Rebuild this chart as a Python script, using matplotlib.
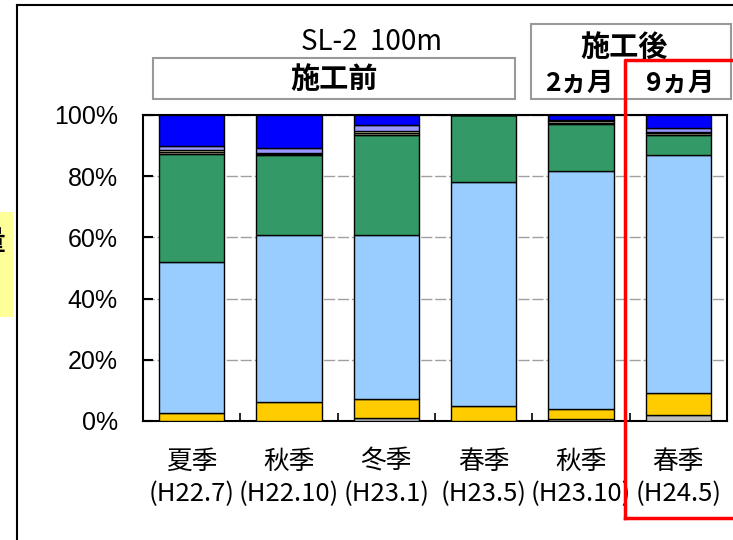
import matplotlib
matplotlib.use("Agg")
import matplotlib.pyplot as plt
from matplotlib.patches import Rectangle
from matplotlib.lines import Line2D
import numpy as np

plt.rcParams['font.family'] = ['Noto Sans CJK JP', 'DejaVu Sans']

# Survey periods
seasons = ["夏季", "秋季", "冬季", "春季", "秋季", "春季"]
periods = ["(H22.7)", "(H22.10)", "(H23.1)", "(H23.5)", "(H23.10)", "(H24.5)"]

# Composition (%) of each group, stacked from the bottom
gray     = [0.0, 0.0, 1.0, 0.0, 0.8, 2.0]
yellow   = [2.7, 6.2, 6.1, 5.0, 3.0, 7.0]
lblue    = [49.1, 54.7, 53.8, 73.1, 77.9, 78.0]
green    = [35.4, 25.9, 32.7, 21.9, 15.2, 6.6]
tan      = [0.8, 0.6, 0.6, 0.0, 0.5, 0.5]
cream    = [0.5, 0.3, 0.5, 0.0, 0.6, 0.5]
lavender = [1.4, 1.4, 2.1, 0.0, 0.3, 1.1]
blue     = [10.1, 10.9, 3.2, 0.0, 1.7, 4.3]

series = [gray, yellow, lblue, green, tan, cream, lavender, blue]
colors = ["#C0C0C0", "#FFCC00", "#99CCFF", "#339966",
          "#CCCC99", "#FFFFCC", "#9999FF", "#0000FF"]

W, H = 733, 540
fig = plt.figure(figsize=(W / 100, H / 100), dpi=100)

def fx(px):
    return px / W

def fy(py):
    return 1 - py / H

ax = fig.add_axes([fx(143), fy(421), fx(727) - fx(143), fy(115) - fy(421)])

x = np.arange(len(seasons))
bottom = np.zeros(len(seasons))
for vals, c in zip(series, colors):
    v = np.array(vals)
    ax.bar(x, v, bottom=bottom, width=0.67, color=c, edgecolor="black",
           linewidth=1.0, zorder=3)
    bottom += v

ax.set_xlim(-0.5, 5.5)
ax.set_ylim(0, 100)
ax.set_yticks([0, 20, 40, 60, 80, 100])
ax.set_yticklabels([f"{v}%" for v in [0, 20, 40, 60, 80, 100]],
                   family="Liberation Sans", fontsize=18)
ax.yaxis.grid(True, color="#A0A0A0", linewidth=1.0, linestyle=(0, (8, 2)),
              zorder=0)
ax.tick_params(axis="y", direction="in", length=7, width=1.5, pad=18)

ax.set_xticks(x)
ax.set_xticklabels([f"{s}\n{p}" for s, p in zip(seasons, periods)],
                   fontsize=18.5, linespacing=1.3)
ax.tick_params(axis="x", which="major", length=0, pad=20)
ax.set_xticks(np.arange(0.5, 5.5, 1.0), minor=True)
ax.tick_params(axis="x", which="minor", direction="in", length=6, width=1.2)

for sp in ax.spines.values():
    sp.set_linewidth(1.5)
    sp.set_color("black")

# Outer frame lines
fig.add_artist(Line2D([fx(17), fx(733)], [fy(5), fy(5)], color="black", lw=1.5))
fig.add_artist(Line2D([fx(17), fx(17)], [fy(5), fy(540)], color="black", lw=1.5))

# Side label box
fig.add_artist(Rectangle((fx(0), fy(317)), fx(13), fy(212) - fy(317),
                         facecolor="#FFFF99", edgecolor="none"))
fig.text(fx(-8), fy(242), "量", fontsize=20, fontweight="bold",
         ha="center", va="center")

# Headings
fig.text(fx(372), fy(42), "SL-2  100m", fontsize=20, ha="center", va="center")

fig.add_artist(Rectangle((fx(153), fy(99)), fx(515) - fx(153), fy(58) - fy(99),
                         facecolor="white", edgecolor="#999999", lw=1.5))
fig.text(fx(334), fy(79), "施工前", fontsize=21, fontweight="bold",
         ha="center", va="center")

fig.add_artist(Rectangle((fx(531), fy(99)), fx(731) - fx(531), fy(24) - fy(99),
                         facecolor="white", edgecolor="#999999", lw=1.5))
fig.text(fx(624), fy(47), "施工後", fontsize=21, fontweight="bold",
         ha="center", va="center")
fig.text(fx(579), fy(83), "2ヵ月", fontsize=19, fontweight="bold",
         ha="center", va="center")
fig.text(fx(680), fy(83), "9ヵ月", fontsize=19, fontweight="bold",
         ha="center", va="center")

# Highlight frame around the latest survey
fig.add_artist(Line2D([fx(625), fx(625), fx(740)], [fy(518), fy(60), fy(60)],
                      color="#FF0000", lw=2.5))
fig.add_artist(Line2D([fx(625), fx(740)], [fy(518), fy(518)],
                      color="#FF0000", lw=2.5))

fig.savefig("out.png", dpi=100)
